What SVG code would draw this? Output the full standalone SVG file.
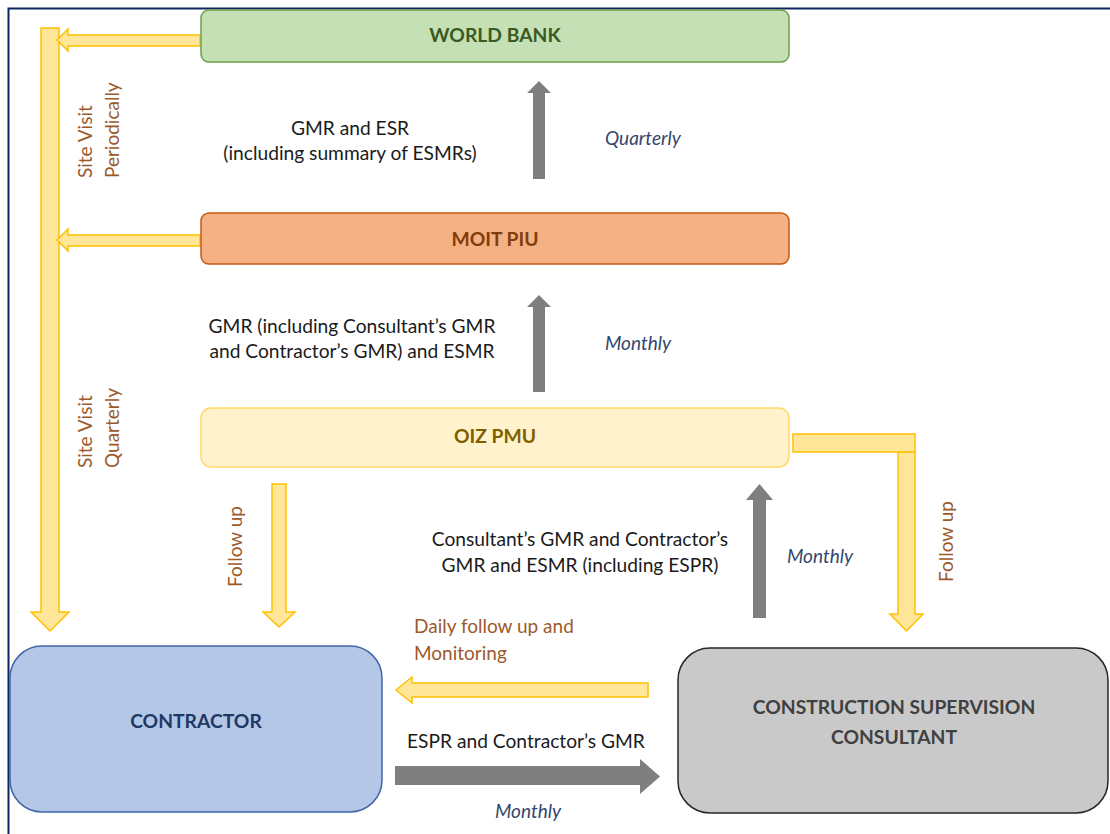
<svg xmlns="http://www.w3.org/2000/svg" width="1110" height="834" viewBox="0 0 1110 834">
<style>
.t{font-family:Lato,"Liberation Sans",sans-serif;font-size:19.2px;fill:#1a1a1a}
.b{font-family:Lato,"Liberation Sans",sans-serif;font-size:19.3px;font-weight:bold}
.br{font-family:Lato,"Liberation Sans",sans-serif;font-size:19px;fill:#9c5a2c}
.it{font-family:Lato,"Liberation Sans",sans-serif;font-size:19px;font-style:italic;fill:#33476e}
.ya{fill:#ffe699;stroke:#ffc000;stroke-width:1.5}
.ga{fill:#7f7f7f}
</style>
<rect width="1110" height="834" fill="#ffffff"/>
<path d="M8.5,834 V8.5 H1110" fill="none" stroke="#0c2461" stroke-width="2"/>

<g id="connectors">
  <polygon class="ya" points="41,28 59,28 59,612 69,612 50,631 31,612 41,612"/>
  <polygon class="ya" points="200,35 68,35 68,29 57,40 68,51 68,46 200,46"/>
  <polygon class="ya" points="200,235 68,235 68,229 57,240 68,251 68,246 200,246"/>
  <polygon class="ya" points="272,484 286,484 286,612 295,612 279,627 263,612 272,612"/>
  <polygon class="ya" points="898,452 915,452 915,614 923,614 906.5,631 890,614 898,614"/>
  <rect class="ya" x="793" y="434" width="122" height="18"/>
  <polygon class="ya" points="648,683 412,683 412,677 396,690 412,703 412,697 648,697"/>
  <polygon class="ga" points="533,179 533,93 527,93 539,81 551,93 545,93 545,179"/>
  <polygon class="ga" points="533,392 533,307 527,307 539,295 551,307 545,307 545,392"/>
  <polygon class="ga" points="753,618 753,500 746,500 759.5,484 773,500 766,500 766,618"/>
  <polygon class="ga" points="395,766 640,766 640,759 660,776.5 640,794 640,785 395,785"/>
</g>

<g id="labels">
  <g transform="translate(92,178) rotate(-90)">
    <text class="br" x="0" y="0">Site Visit</text>
    <text class="br" x="0" y="27">Periodically</text>
  </g>
  <g transform="translate(92,468) rotate(-90)">
    <text class="br" x="0" y="0">Site Visit</text>
    <text class="br" x="0" y="27">Quarterly</text>
  </g>
  <text class="br" transform="translate(242,587) rotate(-90)">Follow up</text>
  <text class="br" transform="translate(953,582) rotate(-90)">Follow up</text>
  <text class="t" x="350" y="135" text-anchor="middle">GMR and ESR</text>
  <text class="t" x="350" y="160" text-anchor="middle">(including summary of ESMRs)</text>
  <text class="it" x="605" y="145">Quarterly</text>
  <text class="t" x="352" y="333" text-anchor="middle">GMR (including Consultant’s GMR</text>
  <text class="t" x="352" y="358" text-anchor="middle">and Contractor’s GMR) and ESMR</text>
  <text class="it" x="605" y="350">Monthly</text>
  <text class="t" x="580" y="546" text-anchor="middle">Consultant’s GMR and Contractor’s</text>
  <text class="t" x="580" y="572" text-anchor="middle">GMR and ESMR (including ESPR)</text>
  <text class="it" x="787" y="563">Monthly</text>
  <text class="br" x="414" y="633">Daily follow up and</text>
  <text class="br" x="414" y="660">Monitoring</text>
  <text class="t" x="407" y="748">ESPR and Contractor’s GMR</text>
  <text class="it" x="495" y="818">Monthly</text>
</g>

<g id="world-bank">
  <rect x="201" y="10" width="588" height="52" rx="8" fill="#c5e0b4" stroke="#6e9e4c" stroke-width="1.5"/>
  <text class="b" x="495" y="42" text-anchor="middle" fill="#3a5a24">WORLD BANK</text>
</g>
<g id="moit-piu">
  <rect x="201" y="213" width="588" height="51" rx="8" fill="#f4b183" stroke="#c55a11" stroke-width="1.5"/>
  <text class="b" x="495" y="246" text-anchor="middle" fill="#843c0c">MOIT PIU</text>
</g>
<g id="oiz-pmu">
  <rect x="201" y="408" width="588" height="59" rx="10" fill="#fff2cc" stroke="#ffd966" stroke-width="1.5"/>
  <text class="b" x="495" y="443" text-anchor="middle" fill="#7f6000">OIZ PMU</text>
</g>
<g id="contractor">
  <rect x="10" y="646" width="372" height="166" rx="32" fill="#b4c7e7" stroke="#3f65a8" stroke-width="1.5"/>
  <text class="b" x="196" y="728" text-anchor="middle" fill="#1f3864">CONTRACTOR</text>
</g>
<g id="consultant">
  <rect x="678" y="648" width="430" height="165" rx="32" fill="#c9c9c9" stroke="#262626" stroke-width="1.5"/>
  <text class="b" x="894" y="714" text-anchor="middle" fill="#404040">CONSTRUCTION SUPERVISION</text>
  <text class="b" x="894" y="744" text-anchor="middle" fill="#404040">CONSULTANT</text>
</g>
</svg>
